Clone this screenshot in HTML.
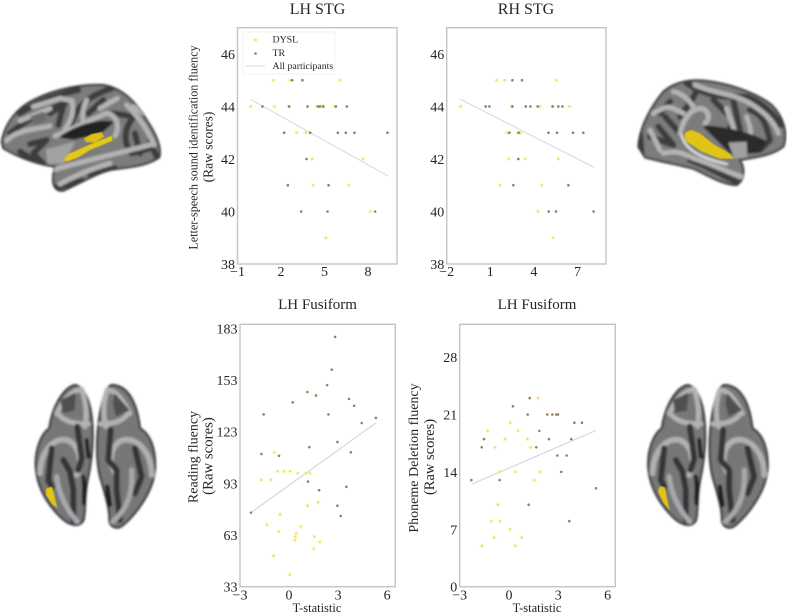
<!DOCTYPE html>
<html>
<head>
<meta charset="utf-8">
<style>
html,body{margin:0;padding:0;background:#fff;width:787px;height:616px;overflow:hidden}
svg{display:block}
text{font-family:"Liberation Serif",serif;fill:#262626}
</style>
</head>
<body>
<svg id="fig" width="787" height="616" viewBox="0 0 787 616" xmlns="http://www.w3.org/2000/svg">
<defs>
<filter id="b1" x="-8%" y="-8%" width="116%" height="116%"><feGaussianBlur stdDeviation="3"/></filter>
<filter id="b2" x="-20%" y="-20%" width="140%" height="140%"><feGaussianBlur stdDeviation="1.6"/></filter>
<clipPath id="clipA"><path d="M5,215C15,160 50,115 100,90C170,55 250,42 310,45C370,55 410,100 440,150C470,195 485,235 478,262C440,290 380,292 330,300C290,310 250,335 190,362C165,365 150,345 165,290C120,285 60,265 10,235Z"/></clipPath>
<clipPath id="clipB"><path d="M25,230C28,180 55,120 100,65C130,40 170,28 220,32C300,40 380,70 425,105C460,140 475,190 460,230C430,255 380,262 330,270C345,295 345,330 320,345C280,345 230,315 195,298C150,285 90,275 45,262Z"/></clipPath>
<g id="ventral-brain" filter="url(#b1)">
<path d="M165,15C195,20 210,70 215,110C222,170 218,230 203,300C192,350 198,400 190,422C175,445 145,435 120,410C85,375 55,330 48,270C42,210 65,160 88,145C95,90 125,25 165,15Z" fill="#777" stroke="#2a2a2a" stroke-width="6"/>
<path d="M275,15C320,15 350,60 360,145C395,165 408,215 405,270C398,340 345,405 310,435C290,452 270,440 268,420C270,390 255,340 240,290C228,240 228,170 240,100C248,55 258,20 275,15Z" fill="#777" stroke="#2a2a2a" stroke-width="6"/>
<g fill="none" stroke-linecap="round" stroke-linejoin="round">
<path d="M110,100C130,60 160,28 185,28C200,70 200,110 195,140M112,100C135,128 170,132 205,132" stroke="#b2b2b2" stroke-width="15"/>
<path d="M125,62L165,42L160,90L130,95Z" fill="#505050" stroke="#505050" stroke-width="6"/>
<path d="M60,280C62,215 100,172 140,180C178,192 190,250 170,285" stroke="#b0b0b0" stroke-width="17"/>
<path d="M95,205L85,300L95,320M130,240L150,275L160,330L160,420M172,140L185,235L175,270" stroke="#363636" stroke-width="18"/>
<path d="M110,290C115,340 140,390 172,425" stroke="#a8a8b0" stroke-width="15"/>
<path d="M200,180L205,230M190,290C195,320 190,350 192,370" stroke="#1e1e1e" stroke-width="12"/>
<path d="M330,100C310,60 285,28 262,30C248,70 250,110 258,140M325,100C305,128 275,132 242,132" stroke="#b2b2b2" stroke-width="15"/>
<path d="M285,45L325,90L290,105L282,70Z" fill="#505050" stroke="#505050" stroke-width="6"/>
<path d="M395,285C395,220 355,172 310,180C272,192 262,245 288,282" stroke="#b0b0b0" stroke-width="17"/>
<path d="M345,205L365,290L345,340M272,150L265,240L290,270L290,330L300,420" stroke="#363636" stroke-width="18"/>
<path d="M335,270C340,340 320,390 278,425" stroke="#a8a8a8" stroke-width="15"/>
<path d="M262,320L270,375" stroke="#1e1e1e" stroke-width="13"/>
</g>
</g>
</defs>

<g transform="translate(0,70) scale(.3333)">
<g filter="url(#b1)">
<path d="M5,215C15,160 50,115 100,90C170,55 250,42 310,45C370,55 410,100 440,150C470,195 485,235 478,262C440,290 380,292 330,300C290,310 250,335 190,362C165,365 150,345 165,290C120,285 60,265 10,235Z" fill="#7c7c7c" stroke="#333" stroke-width="6"/>
<g clip-path="url(#clipA)" fill="none" stroke-linecap="round" stroke-linejoin="round">
<path d="M60,130C120,90 170,75 235,60M30,190C60,165 120,125 195,100M150,130L190,105L175,165M210,175C222,125 245,85 335,55M265,130L310,90M340,130L402,140C375,170 372,205 382,228M405,190L420,250M450,215L470,260M90,222L140,210L100,250L130,282M60,245L100,270M270,312L345,295M170,352L245,332M395,250L450,235" stroke="#3c3c3c" stroke-width="18"/>
<path d="M20,212C50,178 110,178 150,168M60,152L150,116M100,110L180,85L216,92C225,130 208,160 195,178M260,90C245,120 245,150 255,170M300,115L352,85M380,105C415,140 445,180 462,225M400,110L430,130M165,198C210,180 270,150 320,130C352,135 360,170 345,198M160,300C250,272 350,252 460,222M180,342C230,315 270,298 330,280" stroke="#b4b4b4" stroke-width="15"/>
<path d="M185,200C230,170 290,150 335,158L300,188L220,205Z" fill="#232323" stroke="#232323" stroke-width="8"/>
<path d="M140,240L222,218L190,278L145,280Z" fill="#a2a2a2" stroke="#a2a2a2" stroke-width="5"/>
<path d="M90,140L130,125L140,150L105,165Z" fill="#6c6c6c"/>
</g>
</g>
<g filter="url(#b2)">
<path d="M190,270L205,252L260,228L335,197L338,212L270,240L235,262L200,275Z" fill="#e6c818"/>
<path d="M252,205L275,192L305,186L312,200L285,218L258,216Z" fill="#dcbe18"/>
</g>
</g>

<g transform="translate(630,70) scale(.3333)">
<g filter="url(#b1)">
<path d="M25,230C28,180 55,120 100,65C130,40 170,28 220,32C300,40 380,70 425,105C460,140 475,190 460,230C430,255 380,262 330,270C345,295 345,330 320,345C280,345 230,315 195,298C150,285 90,275 45,262Z" fill="#7c7c7c" stroke="#333" stroke-width="6"/>
<g clip-path="url(#clipB)" fill="none" stroke-linecap="round" stroke-linejoin="round">
<path d="M170,40C230,80 280,82 350,80C400,100 430,130 452,165M120,95L90,130M105,140L150,190M85,170L130,225L60,200M200,60C190,90 170,110 150,140M310,90L330,180L300,170M360,120C400,130 410,170 420,210L390,240M180,270C240,290 280,320 320,335M30,190L35,260M250,90L290,130" stroke="#3c3c3c" stroke-width="18"/>
<path d="M130,65C160,70 180,95 190,110M195,45C250,70 310,70 360,100C400,125 430,150 445,190M70,130C90,120 110,105 130,115L160,130M350,140C360,170 370,190 350,210M290,115L320,200M100,250C140,240 160,250 190,265C240,280 290,305 335,320M150,190C160,150 180,115 215,115C240,125 240,150 225,160M60,180L90,240" stroke="#b4b4b4" stroke-width="15"/>
<path d="M225,170C265,172 340,182 405,215L385,245L305,250Z" fill="#2c2c2c" stroke="#2c2c2c" stroke-width="8"/>
<path d="M295,218L350,215L352,262L312,266Z" fill="#a0a0a0"/>
<path d="M155,195C165,240 215,265 290,282" stroke="#dcdcdc" stroke-width="8"/>
</g>
</g>
<g filter="url(#b2)">
<path d="M165,187L185,180L210,190L250,222L298,250L312,266L270,266L215,245L190,228L165,212Z" fill="#e2c412"/>
</g>
</g>

<use href="#ventral-brain" transform="translate(20,380) scale(.3333)"/>
<path filter="url(#b2)" transform="translate(20,380) scale(.3333)" d="M78,325L96,320L103,345L112,385L96,372L78,345Z" fill="#e2c414"/>
<use href="#ventral-brain" transform="translate(632.5,380) scale(.3333)"/>
<path filter="url(#b2)" transform="translate(630,380) scale(.3333)" d="M84,335L90,318L105,322L112,360L120,392L100,368Z" fill="#e2c414"/>

<text x="317.5" y="14" font-size="16" text-anchor="middle">LH STG</text>
<text x="526" y="14" font-size="16" text-anchor="middle">RH STG</text>
<text x="317.5" y="309" font-size="15" text-anchor="middle">LH Fusiform</text>
<text x="537" y="309" font-size="15" text-anchor="middle">LH Fusiform</text>

<g text-anchor="middle">
<text font-size="12.1" transform="translate(197.5,147.5) rotate(-90)">Letter-speech sound identification fluency</text>
<text font-size="13.5" transform="translate(212.5,147) rotate(-90)">(Raw scores)</text>
</g>
<g text-anchor="middle">
<text font-size="14" transform="translate(197.5,457) rotate(-90)">Reading fluency</text>
<text font-size="14.8" transform="translate(212.5,456) rotate(-90)">(Raw scores)</text>
</g>
<g text-anchor="middle">
<text font-size="14" transform="translate(418,458) rotate(-90)">Phoneme Deletion fluency</text>
<text font-size="14.5" transform="translate(434,457) rotate(-90)">(Raw scores)</text>
</g>
<text x="317" y="612" font-size="12.5" text-anchor="middle">T-statistic</text>
<text x="537" y="612" font-size="12.5" text-anchor="middle">T-statistic</text>

<g id="charts"></g>

<g>
<rect x="243" y="32" width="92" height="42" fill="#fff" stroke="#efefef" stroke-width=".8"/>
<circle cx="255.5" cy="40" r="1.4" fill="#e8dc48" stroke="#fdf6b0" stroke-width="2" stroke-opacity=".45"/>
<text x="272.5" y="42.5" font-size="9.8">DYSL</text>
<circle cx="255.5" cy="53.5" r="1.3" fill="#8b8262"/>
<text x="272.5" y="56" font-size="9.8">TR</text>
<line x1="246" y1="66" x2="265" y2="66" stroke="#d6d6e0" stroke-width="1.1"/>
<text x="272.5" y="69" font-size="9.8">All participants</text>
</g>

<script>
// LH STG
const stgLhDyslX=[1.48,2.61,6.06,-0.10,1.55,2.54,4.45,4.79,4.95,5.71,3.07,3.71,4.15,7.64,4.22,6.68,8.17,5.09];
const stgLhDyslY=[45,45,45,44,44,44,44,44,44,44,43,43,42,42,41,41,40,39];
const stgLhTrX=[2.77,3.48,0.72,2.56,3.83,4.56,4.68,4.91,5.78,6.54,2.22,4.01,5.92,6.47,7.07,9.34,3.76,2.47,5.28,3.39,5.21,8.49];
const stgLhTrY=[45,45,44,44,44,44,44,44,44,44,43,43,43,43,43,43,42,41,41,40,40,40];
const stgLhFitX=[-0.1,9.39];
const stgLhFitY=[44.27,41.35];
const stgLhXTicks=[-1,2,5,8];
const stgYTicks=[38,40,42,44,46];
// RH STG
const stgRhDyslX=[1.44,1.99,5.55,-1.04,2.47,4.42,5.27,6.44,2.13,2.27,2.89,3.09,2.27,3.41,5.68,1.65,4.54,4.28,5.32];
const stgRhDyslY=[45,45,45,44,44,44,44,44,43,43,43,43,42,42,42,41,41,40,39];
const stgRhTrX=[2.52,3.18,0.68,0.94,2.52,3.44,3.76,4.26,5.29,5.68,5.96,2.31,2.95,5.0,5.59,6.69,7.4,2.93,2.59,6.37,5.02,5.52,8.11];
const stgRhTrY=[45,45,44,44,44,44,44,44,44,44,44,43,43,43,43,43,43,42,41,41,40,40,40];
const stgRhFitX=[-1.04,8.14];
const stgRhFitY=[44.27,41.68];
const stgRhXTicks=[-2,1,4,7];
// Reading fluency
const readDyslX=[-0.90,-1.69,-1.12,-0.69,-0.29,0.06,0.53,1.04,1.27,-0.55,-1.35,-0.63,0.73,0.43,0.39,0.35,1.14,1.78,1.55,1.88,1.51,-0.94,0.04];
const readDyslY=[111,95,95,100,100,100,99,99,99,75,69,65,68,64,62,60,80,82,62,59,55,51,40];
const readTrX=[2.82,2.61,2.33,1.12,1.65,0.22,3.67,3.98,-1.55,2.41,5.31,4.45,2.96,1.24,3.78,-1.69,-0.61,1.16,3.51,1.84,2.96,3.16,-2.33];
const readTrY=[178,159,150,146,144,140,142,138,133,133,131,128,117,114,111,110,109,94,91,89,80,74,76];
const readFitX=[-2.33,5.31];
const readFitY=[76,128];
const tXTicks=[-3,0,3,6];
const readYTicks=[33,63,93,123,153,183];
// Phoneme deletion fluency
const phonDyslX=[1.78,0.08,-1.30,0.55,-0.24,1.12,-0.85,1.32,-0.59,0.39,1.90,1.54,-0.67,-1.07,-0.55,0.06,-0.91,0.77,-1.64,0.39];
const phonDyslY=[23,20,19,19,18,18,17,17,14,14,14,13,10,8,8,7,6,6,5,5];
const phonTrX=[1.26,0.24,1.14,2.33,2.64,2.88,2.98,3.98,4.44,1.85,2.43,3.79,-1.52,-1.66,1.66,2.94,3.51,3.18,-2.29,-0.57,5.29,1.20,3.67];
const phonTrY=[23,22,21,21,21,21,21,20,20,19,18,18,18,17,17,16,16,14,13,13,12,10,8];
const phonFitX=[-2.27,5.29];
const phonFitY=[12.5,19.05];
const phonYTicks=[0,7,14,21,28];

const NS='http://www.w3.org/2000/svg';
const root=document.getElementById('charts');
function mk(tag,attrs,parent){
  const e=document.createElementNS(NS,tag);
  for(const k in attrs)e.setAttribute(k,attrs[k]);
  parent.appendChild(e);
  return e;
}
function panel(cfg){
  const g=mk('g',{},root);
  
  
  const sx=v=>cfg.left+(v-cfg.xMin)/(cfg.xMax-cfg.xMin)*(cfg.right-cfg.left);
  const sy=v=>cfg.bottom-(v-cfg.yMin)/(cfg.yMax-cfg.yMin)*(cfg.bottom-cfg.top);
  const frame=mk('rect',{x:cfg.left,y:cfg.top,width:cfg.right-cfg.left,height:cfg.bottom-cfg.top,fill:'#fff',stroke:'#c4c4c4','stroke-width':1.4},g);
  
  
  cfg.xTicks.forEach(v=>{
    const t=mk('text',{x:sx(v),y:cfg.bottom+cfg.xLabelGap,'font-size':14,'text-anchor':'middle'},g);
    t.textContent=String(v).replace('-','\u2212');
    
    
  });
  cfg.yTicks.forEach(v=>{
    const t=mk('text',{x:cfg.left-2.5,y:sy(v)+5,'font-size':14,'text-anchor':'end'},g);
    t.textContent=String(v);
    
    
  });
  const fit=mk('line',{x1:sx(cfg.fitX[0]),y1:sy(cfg.fitY[0]),x2:sx(cfg.fitX[1]),y2:sy(cfg.fitY[1]),stroke:'#d6d6e0','stroke-width':cfg.lineW},g);
  
  
  cfg.dyslX.forEach((x,i)=>{
    const c=mk('circle',{cx:sx(x),cy:sy(cfg.dyslY[i]),r:1.3,fill:'#e8dc48',stroke:'#fdf6b0','stroke-width':2,'stroke-opacity':.4},g);
    
    
  });
  cfg.trX.forEach((x,i)=>{
    const c=mk('circle',{cx:sx(x),cy:sy(cfg.trY[i]),r:1.3,fill:cfg.trColor},g);
    
    
  });
}
panel({name:'chart-lh-stg',left:237.5,right:397,top:27.7,bottom:264,xMin:-1,xMax:10,yMin:38,yMax:47,xLabelGap:12,xTicks:stgLhXTicks,yTicks:stgYTicks,dyslX:stgLhDyslX,dyslY:stgLhDyslY,trX:stgLhTrX,trY:stgLhTrY,fitX:stgLhFitX,fitY:stgLhFitY,trColor:'#8b8262',lineW:1});
panel({name:'chart-rh-stg',left:446.7,right:606,top:27.7,bottom:264,xMin:-2,xMax:8.96,yMin:38,yMax:47,xLabelGap:12,xTicks:stgRhXTicks,yTicks:stgYTicks,dyslX:stgRhDyslX,dyslY:stgRhDyslY,trX:stgRhTrX,trY:stgRhTrY,fitX:stgRhFitX,fitY:stgRhFitY,trColor:'#8b8262',lineW:1});
panel({name:'chart-reading-fluency',left:240,right:395.3,top:324.3,bottom:586.7,xMin:-3,xMax:6.5,yMin:33,yMax:185.3,xLabelGap:13,xTicks:tXTicks,yTicks:readYTicks,dyslX:readDyslX,dyslY:readDyslY,trX:readTrX,trY:readTrY,fitX:readFitX,fitY:readFitY,trColor:'#9a8058',lineW:1.2});
panel({name:'chart-phoneme-deletion-fluency',left:459.7,right:615.3,top:324.3,bottom:586.7,xMin:-3,xMax:6.47,yMin:0,yMax:32,xLabelGap:13,xTicks:tXTicks,yTicks:phonYTicks,dyslX:phonDyslX,dyslY:phonDyslY,trX:phonTrX,trY:phonTrY,fitX:phonFitX,fitY:phonFitY,trColor:'#9a8058',lineW:1.2});
</script>
</svg>
</body>
</html>
